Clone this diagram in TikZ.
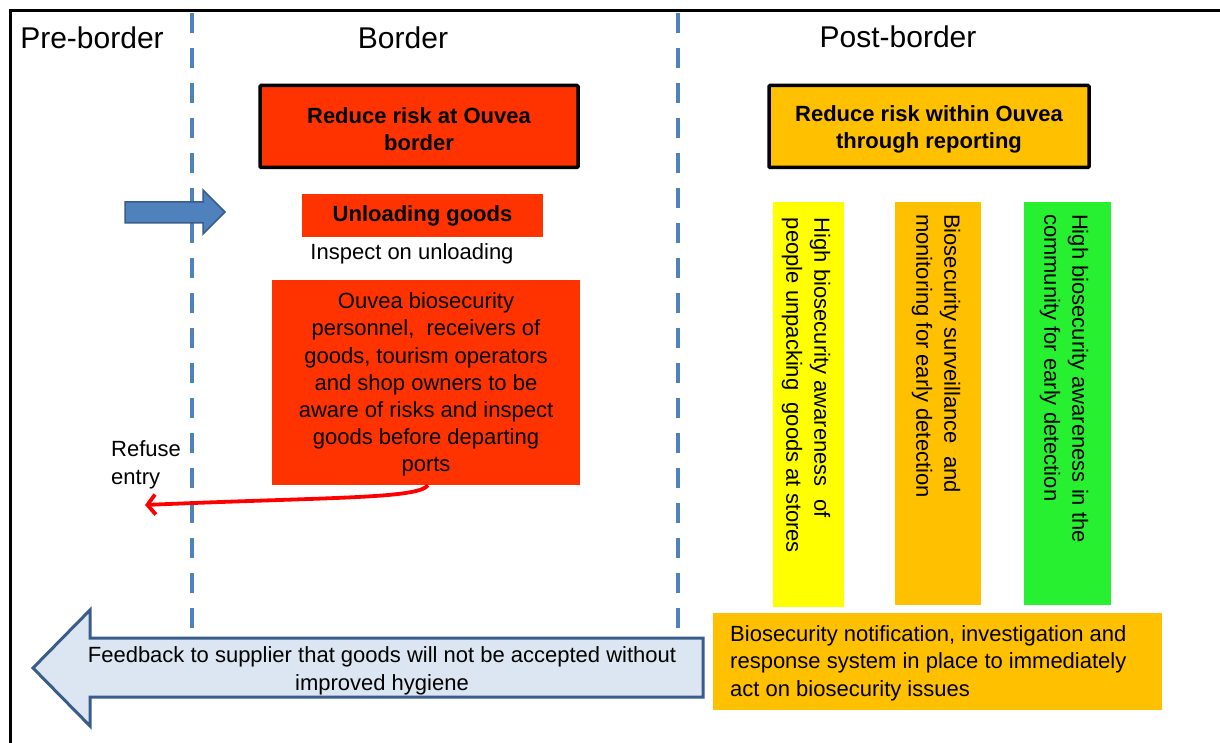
\documentclass[tikz,border=0pt]{standalone}
\usepackage{fontspec}
\setmainfont{Liberation Sans}
\usetikzlibrary{arrows.meta}
\definecolor{redor}{RGB}{255,51,0}
\definecolor{amber}{RGB}{255,192,0}
\definecolor{ylw}{RGB}{255,255,0}
\definecolor{grn}{RGB}{38,240,48}
\definecolor{dashblue}{RGB}{79,129,189}
\definecolor{arrborder}{RGB}{56,93,138}
\definecolor{lightblue}{RGB}{220,230,242}
\definecolor{redline}{RGB}{255,0,0}
\tikzset{
  body/.style={font=\fontsize{22}{27.5}\selectfont, inner sep=0pt},
  hdr/.style={font=\fontsize{30}{34}\selectfont, inner sep=0pt},
  titlebox/.style={draw=black, line width=3.5pt, rounded corners=1pt, align=center,
    font=\bfseries\fontsize{22}{27}\selectfont, inner sep=0pt},
  plainbox/.style={draw=none, inner sep=0pt},
  vtext/.style={body, rotate=-90, align=left, font=\fontsize{22}{28}\selectfont},
  sepline/.style={dashblue, line width=4pt, dash pattern=on 20pt off 15pt},
}
\begin{document}
\begin{tikzpicture}[x=1pt,y=-1pt]
\useasboundingbox (0,0) rectangle (1220,743);
\clip (0,0) rectangle (1220,743);
\fill[white] (0,0) rectangle (1220,743);
% outer frame
\draw[line width=3pt] (10,11) rectangle (1260,780);
% separators
\draw[sepline] (192,13) -- (192,640);
\draw[sepline] (678,13) -- (678,640);
% headers
\node[hdr] (pre) at (92,38) {Pre-border};
\node[hdr] (bor) at (403,38) {Border};
\node[hdr] (post) at (898,37) {Post-border};
% title boxes
\node[titlebox, fill=redor, minimum width=318pt, minimum height=82pt] (t1) at (419,126.5) {\rule{0pt}{22pt}Reduce risk at Ouvea\\border};
\node[titlebox, fill=amber, minimum width=320pt, minimum height=82pt] (t2) at (929,126.5) {\rule{0pt}{22pt}Reduce risk within Ouvea\\through reporting};
% blue arrow
\draw[fill=dashblue, draw=arrborder, line width=1.5pt] (125,202) -- (203,202) -- (203,190) -- (225,212) -- (203,234) -- (203,223) -- (125,223) -- cycle;
% unloading
\node[plainbox, fill=redor, minimum width=241pt, minimum height=43pt, font=\bfseries\fontsize{22}{27}\selectfont] (unl) at (422.5,215.5) {Unloading goods};
\node[body] (insp) at (412,253.5) {Inspect on unloading};
% ouvea box
\node[plainbox, fill=redor, minimum width=308pt, minimum height=205pt, align=center, font=\fontsize{22}{27.2}\selectfont] (ouv) at (426,382.5) {\rule{0pt}{20pt}Ouvea biosecurity\\personnel,~ receivers of\\goods, tourism operators\\and shop owners to be\\aware of risks and inspect\\goods before departing\\ports};
% refuse entry
\node[body, align=left, anchor=west] (ref) at (111,465) {Refuse\\entry};
\coordinate (refend) at (145,505);
\draw[redline, line width=3.8pt, -{Straight Barb[length=8pt,width=20pt]}] ([xshift=2pt]ouv.south) .. controls (418,499) and (330,497) .. (refend);
% vertical boxes
\node[plainbox, fill=ylw, minimum width=71pt, minimum height=405pt] (yb) at (808.5,404.5) {};
\node[plainbox, fill=amber, minimum width=86pt, minimum height=403pt] (ob) at (938,403.5) {};
\node[plainbox, fill=grn, minimum width=87pt, minimum height=403pt] (gb) at (1067.5,403.5) {};
\node[vtext] (yt) at (806,385.5) {High biosecurity awareness~ of\\people unpacking~ goods at stores};
\node[vtext] (ot) at (936,356) {Biosecurity surveillance~ and\\monitoring for early detection};
\node[vtext] (gt) at (1064,378.5) {High biosecurity awareness in the\\community for early detection};
% bottom box
\node[plainbox, fill=amber, minimum width=449pt, minimum height=97pt] (nb) at (937.5,661.5) {};
\node[body, align=left, anchor=west] (nt) at (730,663) {Biosecurity notification, investigation and\\response system in place to immediately\\act on biosecurity issues};
% feedback arrow
\draw[fill=lightblue, draw=arrborder, line width=3pt, line join=miter] (33,668) -- (90,610) -- (90,638) -- (703,638) -- (703,697) -- (90,697) -- (90,726) -- cycle;
\node[body, align=center] (fb) at (382,671) {Feedback to supplier that goods will not be accepted without\\improved hygiene};
\end{tikzpicture}
\end{document}
